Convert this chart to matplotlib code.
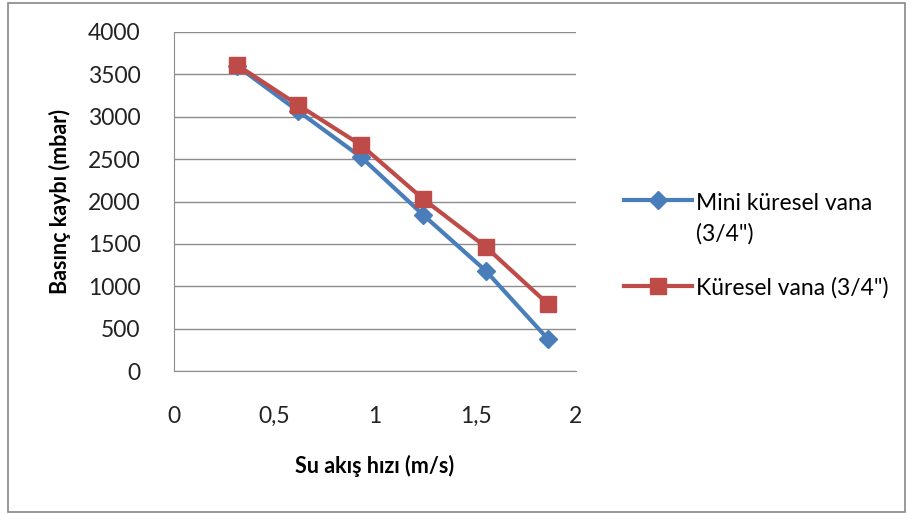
import matplotlib
matplotlib.use("Agg")
import matplotlib.pyplot as plt
import matplotlib.patches as patches
from matplotlib.legend_handler import HandlerLine2D

plt.rcParams['font.family'] = ['Lato', 'DejaVu Sans']

hiz = [0.313, 0.617, 0.930, 1.24, 1.552, 1.86]
mini_kuresel = [3600, 3068, 2525, 1841, 1180, 378]
kuresel = [3611, 3139, 2667, 2029, 1463, 791]
xticks = [0, 0.5, 1, 1.5, 2]
xtick_labels = ['0', '0,5', '1', '1,5', '2']
yticks = [0, 500, 1000, 1500, 2000, 2500, 3000, 3500, 4000]

blue = '#4A7EBB'
red = '#BE4B48'
grid = '#8c8c8c'


class TopLineHandler(HandlerLine2D):
    # put the legend line next to the first line of a two-line label
    def create_artists(self, legend, orig_handle, xdescent, ydescent,
                       width, height, fontsize, trans):
        return super().create_artists(legend, orig_handle, xdescent, ydescent - 28,
                                      width, height, fontsize, trans)


fig = plt.figure(figsize=(9.11, 5.15), dpi=100)
ax = fig.add_axes([174 / 911, 1 - 371 / 515, (576 - 174) / 911, (371 - 32) / 515])

l1, = ax.plot(hiz, mini_kuresel, color=blue, lw=3, marker='D', ms=9,
              label='Mini küresel vana\n(3/4")')
l2, = ax.plot(hiz, kuresel, color=red, lw=3, marker='s', ms=11,
              label='Küresel vana (3/4")')

ax.set_xlim(0, 2)
ax.set_ylim(0, 4000)
ax.set_xticks(xticks)
ax.set_xticklabels(xtick_labels)
ax.set_yticks(yticks)
ax.yaxis.grid(True, color=grid, lw=1)
ax.set_axisbelow(True)
for s in ['top', 'right']:
    ax.spines[s].set_visible(False)
for s in ['left', 'bottom']:
    ax.spines[s].set_color(grid)
ax.tick_params(axis='both', length=0, labelsize=16.5, colors='#222222')
ax.tick_params(axis='y', pad=24)
ax.tick_params(axis='x', pad=25)

ax.set_xlabel('Su akış hızı (m/s)', fontsize=15.5, fontweight='bold', labelpad=20)
ax.set_ylabel('Basınç kaybı (mbar)', fontsize=15.5, fontweight='bold', labelpad=12)

leg = fig.legend(handles=[l1, l2], handler_map={l1: TopLineHandler()},
                 loc='upper left', bbox_to_anchor=(603 / 911, 1 - 172 / 515),
                 frameon=False, fontsize=16.5, handlelength=3.0, handletextpad=0.15,
                 labelspacing=1.4)
for t in leg.get_texts():
    t.set_linespacing(1.55)

fig.patches.append(patches.Rectangle((8 / 911, 3 / 515), 897 / 911, 509 / 515,
                                     transform=fig.transFigure, fill=False,
                                     edgecolor='#888888', lw=1.2))

fig.savefig('out.png', dpi=100)
